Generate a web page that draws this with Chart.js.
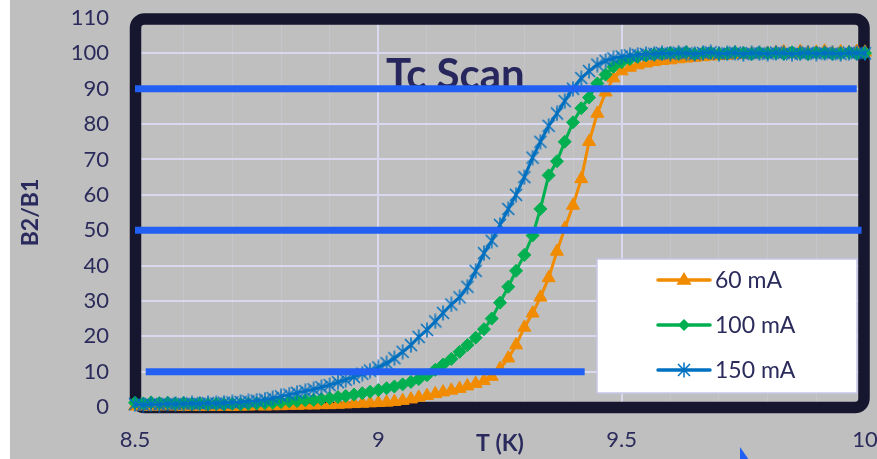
<!DOCTYPE html>
<html>
<head>
<meta charset="utf-8">
<title>Tc Scan</title>
<script src="https://cdn.jsdelivr.net/npm/chart.js@4.4.0/dist/chart.umd.min.js"></script>
<style>
  html, body { margin: 0; padding: 0; background: #fff; }
  canvas { display: block; }
</style>
</head>
<body>
<canvas id="myChart" width="877" height="459"></canvas>
<script>
// temperature points of the scan (K)
const temps = [
  8.5, 8.517, 8.533, 8.55, 8.567, 8.583, 8.6, 8.617, 8.633, 8.65,
  8.667, 8.683, 8.7, 8.717, 8.733, 8.75, 8.767, 8.783, 8.8, 8.817,
  8.833, 8.85, 8.867, 8.883, 8.9, 8.917, 8.933, 8.95, 8.967, 8.983,
  9.0, 9.017, 9.033, 9.05, 9.067, 9.083, 9.1, 9.117, 9.133, 9.15,
  9.167, 9.183, 9.2, 9.217, 9.233, 9.25, 9.267, 9.283, 9.3, 9.317,
  9.333, 9.35, 9.367, 9.383, 9.4, 9.417, 9.433, 9.45, 9.467, 9.483,
  9.5, 9.517, 9.533, 9.55, 9.567, 9.583, 9.6, 9.617, 9.633, 9.65,
  9.667, 9.683, 9.7, 9.717, 9.733, 9.75, 9.767, 9.783, 9.8, 9.817,
  9.833, 9.85, 9.867, 9.883, 9.9, 9.917, 9.933, 9.95, 9.967, 9.983,
  10.0
];

// B2/B1 ratio for each drive current
const ratio60 = [
  0.2, 0.3, 0.1, 0.2, 0.3, 0.2, 0.1, 0.2, 0.1, 0.2,
  0.1, 0.2, 0.1, 0.2, 0.2, 0.3, 0.2, 0.3, 0.3, 0.4,
  0.4, 0.5, 0.5, 0.6, 0.6, 0.7, 0.8, 0.9, 1.0, 1.1,
  1.2, 1.3, 1.5, 1.8, 2.2, 2.7, 3.2, 3.7, 4.2, 4.7,
  5.2, 5.9, 6.6, 7.4, 8.6, 10.8, 13.8, 17.5, 22.5, 26.5,
  31.0, 36.5, 44.0, 50.5, 57.0, 64.5, 75.0, 83.0, 89.0, 93.0,
  95.0, 96.0, 96.7, 97.2, 97.6, 97.9, 98.1, 98.4, 98.6, 98.8,
  99.0, 99.2, 99.3, 99.4, 99.6, 99.7, 99.8, 99.9, 100.0, 100.2,
  100.4, 99.9, 100.5, 100.1, 100.3, 100.6, 100.0, 100.4, 100.2, 100.5,
  100.3
];
const ratio100 = [
  1.2, 1.0, 1.3, 1.1, 1.2, 1.0, 1.1, 0.9, 1.0, 0.8,
  0.9, 0.8, 0.9, 0.8, 0.9, 1.0, 1.1, 1.2, 1.4, 1.6,
  1.7, 1.9, 2.0, 2.2, 2.5, 2.8, 3.1, 3.5, 3.9, 4.3,
  4.8, 5.3, 5.8, 6.4, 7.1, 7.9, 9.0, 10.5, 12.0, 13.6,
  15.6, 17.5, 19.6, 22.0, 25.0, 29.5, 34.0, 38.5, 43.0, 48.5,
  56.0, 65.5, 69.5, 75.0, 80.5, 84.5, 87.5, 91.5, 94.0, 96.2,
  97.5, 98.4, 99.0, 99.4, 99.7, 99.9, 100.1, 100.0, 100.3, 99.8,
  100.1, 100.2, 99.9, 100.0, 100.3, 100.1, 99.8, 100.2, 100.0, 100.1,
  99.9, 100.3, 100.0, 99.8, 100.2, 100.1, 99.9, 100.0, 100.2, 99.9,
  100.1
];
const ratio150 = [
  0.8, 0.6, 0.8, 0.7, 0.9, 0.8, 0.9, 1.0, 0.9, 1.1,
  1.0, 1.2, 1.3, 1.4, 1.6, 1.8, 2.1, 2.5, 3.0, 3.5,
  4.0, 4.5, 5.0, 5.6, 6.2, 7.0, 7.7, 8.5, 9.4, 10.3,
  11.2, 12.4, 13.8, 15.6, 17.5, 19.8, 21.8, 24.2, 26.6, 29.0,
  31.0, 34.0, 38.5, 43.5, 47.0, 51.5, 56.0, 60.0, 65.0, 70.5,
  75.0, 79.5, 83.0, 86.5, 90.0, 93.0, 95.0, 96.8, 97.9, 98.6,
  99.1, 99.4, 99.6, 99.8, 99.9, 100.1, 99.9, 100.2, 100.0, 99.8,
  100.1, 100.3, 99.9, 100.0, 100.2, 99.8, 100.1, 100.0, 99.9, 100.2,
  100.1, 99.8, 100.0, 100.2, 99.9, 100.1, 100.0, 99.8, 100.2, 100.1,
  100.0
];

const seriesNames = ['60 mA', '100 mA', '150 mA'];
const seriesColors = ['#f18b00', '#00b050', '#0070c0'];

// 10 / 50 / 90 % marker lines and the T range each one spans
const refLevels = [90, 50, 10];
const refFrom = [8.5, 8.5, 8.522];
const refTo = [9.983, 9.993, 9.424];

const xTickLabels = ['8.5', '9', '9.5', '10'];
const titleText = 'Tc Scan';

const ink = '#2b2b5c';
const lavender = '#dad8ee';

function pts(vals) {
  return vals.map((v, i) => ({x: temps[i], y: v}));
}

// asterisk marker: X with a vertical bar
function starMarker(size, color) {
  const cv = document.createElement('canvas');
  cv.width = size; cv.height = size;
  const g = cv.getContext('2d');
  const m = size / 2, d = size / 2 - 2;
  g.strokeStyle = color;
  g.lineWidth = 1.5;
  g.beginPath();
  g.moveTo(m - d, m - d); g.lineTo(m + d, m + d);
  g.moveTo(m + d, m - d); g.lineTo(m - d, m + d);
  g.moveTo(m, 0.5); g.lineTo(m, size - 0.5);
  g.stroke();
  return cv;
}
const star = starMarker(16, seriesColors[2]);

const datasets = [];
refLevels.forEach((lvl, i) => {
  datasets.push({
    data: [{x: refFrom[i], y: lvl}, {x: refTo[i], y: lvl}],
    borderColor: '#2160f2',
    borderWidth: 7,
    borderCapStyle: 'butt',
    pointRadius: 0,
    order: -1,
    clip: false
  });
});
datasets.push({
  label: seriesNames[2], data: pts(ratio150),
  borderColor: seriesColors[2], borderWidth: 3,
  pointStyle: star, pointRadius: 8, order: 0, clip: false
});
datasets.push({
  label: seriesNames[1], data: pts(ratio100),
  borderColor: seriesColors[1], backgroundColor: seriesColors[1], borderWidth: 3,
  pointStyle: 'rectRot', pointRadius: 6.5, pointBorderWidth: 1, order: 1, clip: false
});
datasets.push({
  label: seriesNames[0], data: pts(ratio60),
  borderColor: seriesColors[0], backgroundColor: seriesColors[0], borderWidth: 3,
  pointStyle: 'triangle', pointRadius: 7.5, pointBorderWidth: 1, order: 2, clip: false
});

function drawMarker(c, idx, x, y) {
  c.save();
  c.fillStyle = seriesColors[idx];
  if (idx === 0) {
    const r = 8;
    c.beginPath();
    c.moveTo(x, y - r);
    c.lineTo(x + r * 0.95, y + r * 0.6);
    c.lineTo(x - r * 0.95, y + r * 0.6);
    c.closePath();
    c.fill();
  } else if (idx === 1) {
    const r = 6;
    c.beginPath();
    c.moveTo(x, y - r); c.lineTo(x + r, y); c.lineTo(x, y + r); c.lineTo(x - r, y);
    c.closePath();
    c.fill();
  } else {
    c.drawImage(star, x - star.width / 2, y - star.height / 2);
  }
  c.restore();
}

const decor = {
  id: 'decor',
  beforeDraw(chart) {
    const c = chart.ctx;
    c.save();
    c.fillStyle = '#ffffff';
    c.fillRect(0, 0, chart.width, chart.height);
    c.fillStyle = '#bfbfbf';
    c.fillRect(10, 0, chart.width - 10, chart.height);
    c.restore();
  },
  beforeDatasetsDraw(chart) {
    const c = chart.ctx, a = chart.chartArea;
    c.save();
    // heavy rounded frame round the plot
    c.strokeStyle = '#16162f';
    c.lineWidth = 11.5;
    c.beginPath();
    c.roundRect(a.left + 0.5, a.top + 1, a.right - a.left - 1.5, a.bottom - a.top - 0.5, 9);
    c.stroke();
    // title sits inside the plot, partly under the 90 line
    c.fillStyle = '#27275e';
    c.font = 'bold 42px Lato';
    c.textBaseline = 'alphabetic';
    c.textAlign = 'left';
    c.fillText(titleText, a.left + 251, a.top + 71);
    c.restore();
  },
  afterDatasetsDraw(chart) {
    const c = chart.ctx, a = chart.chartArea;
    const bx = a.left + 462, by = a.top + 241;
    c.save();
    c.fillStyle = '#ffffff';
    c.fillRect(bx, by, 260, 134);
    c.strokeStyle = '#c6c6ea';
    c.lineWidth = 1.5;
    c.strokeRect(bx, by, 260, 134);
    c.font = '23px Lato';
    c.textBaseline = 'middle';
    c.textAlign = 'left';
    seriesNames.forEach((name, i) => {
      const y = by + 21 + i * 45;
      c.strokeStyle = seriesColors[i];
      c.lineWidth = 3.5;
      c.lineCap = 'round';
      c.beginPath();
      c.moveTo(bx + 61, y);
      c.lineTo(bx + 113, y);
      c.stroke();
      drawMarker(c, i, bx + 87, y);
      c.fillStyle = ink;
      c.fillText(name, bx + 118, y + 1);
    });
    c.restore();
  },
  afterDraw(chart) {
    // little pointer arrow below the axis
    const c = chart.ctx;
    c.save();
    c.fillStyle = '#2160f2';
    c.beginPath();
    c.moveTo(740, 447);
    c.lineTo(749, 460);
    c.lineTo(740, 460);
    c.closePath();
    c.fill();
    c.restore();
  }
};

Chart.defaults.font.family = 'Lato';
Chart.defaults.color = ink;

new Chart(document.getElementById('myChart'), {
  type: 'line',
  data: {datasets: datasets},
  options: {
    responsive: false,
    animation: false,
    layout: {padding: {top: 18, right: 12, left: 0, bottom: 0}},
    plugins: {legend: {display: false}, tooltip: {enabled: false}},
    elements: {line: {tension: 0}},
    scales: {
      x: {
        type: 'linear',
        min: 8.5,
        max: 10,
        afterFit(s) { s.height = 52; s.paddingLeft = 0; s.paddingRight = 0; },
        border: {display: false},
        grid: {
          drawTicks: false,
          color: (ctx) => {
            const v = ctx.tick ? ctx.tick.value : 0;
            return Math.abs(v * 2 - Math.round(v * 2)) < 1e-6 ? lavender : 'rgba(214,212,232,0.3)';
          },
          lineWidth: (ctx) => {
            const v = ctx.tick ? ctx.tick.value : 0;
            return Math.abs(v * 2 - Math.round(v * 2)) < 1e-6 ? 2 : 1;
          }
        },
        ticks: {
          stepSize: 0.1,
          autoSkip: false,
          maxRotation: 0,
          padding: 20,
          font: {size: 22},
          color: ink,
          callback: (v) => {
            const k = xTickLabels.indexOf(String(+(+v).toFixed(1)));
            return k >= 0 ? xTickLabels[k] : '';
          }
        },
        title: {
          display: true,
          text: 'T (K)',
          color: '#2a2a5e',
          font: {size: 23, weight: 'bold'},
          padding: {top: 0, bottom: 2}
        }
      },
      y: {
        min: 0,
        max: 110,
        afterFit(s) { s.width = 135; s.paddingTop = 0; s.paddingBottom = 0; },
        border: {display: false},
        grid: {drawTicks: false, color: lavender, lineWidth: 2},
        ticks: {stepSize: 10, padding: 26, font: {size: 22}, color: ink},
        title: {
          display: true,
          text: 'B2/B1',
          color: '#2a2a5e',
          font: {size: 23, weight: 'bold'},
          padding: {top: 17, bottom: 0}
        }
      }
    }
  },
  plugins: [decor]
});
</script>
</body>
</html>
